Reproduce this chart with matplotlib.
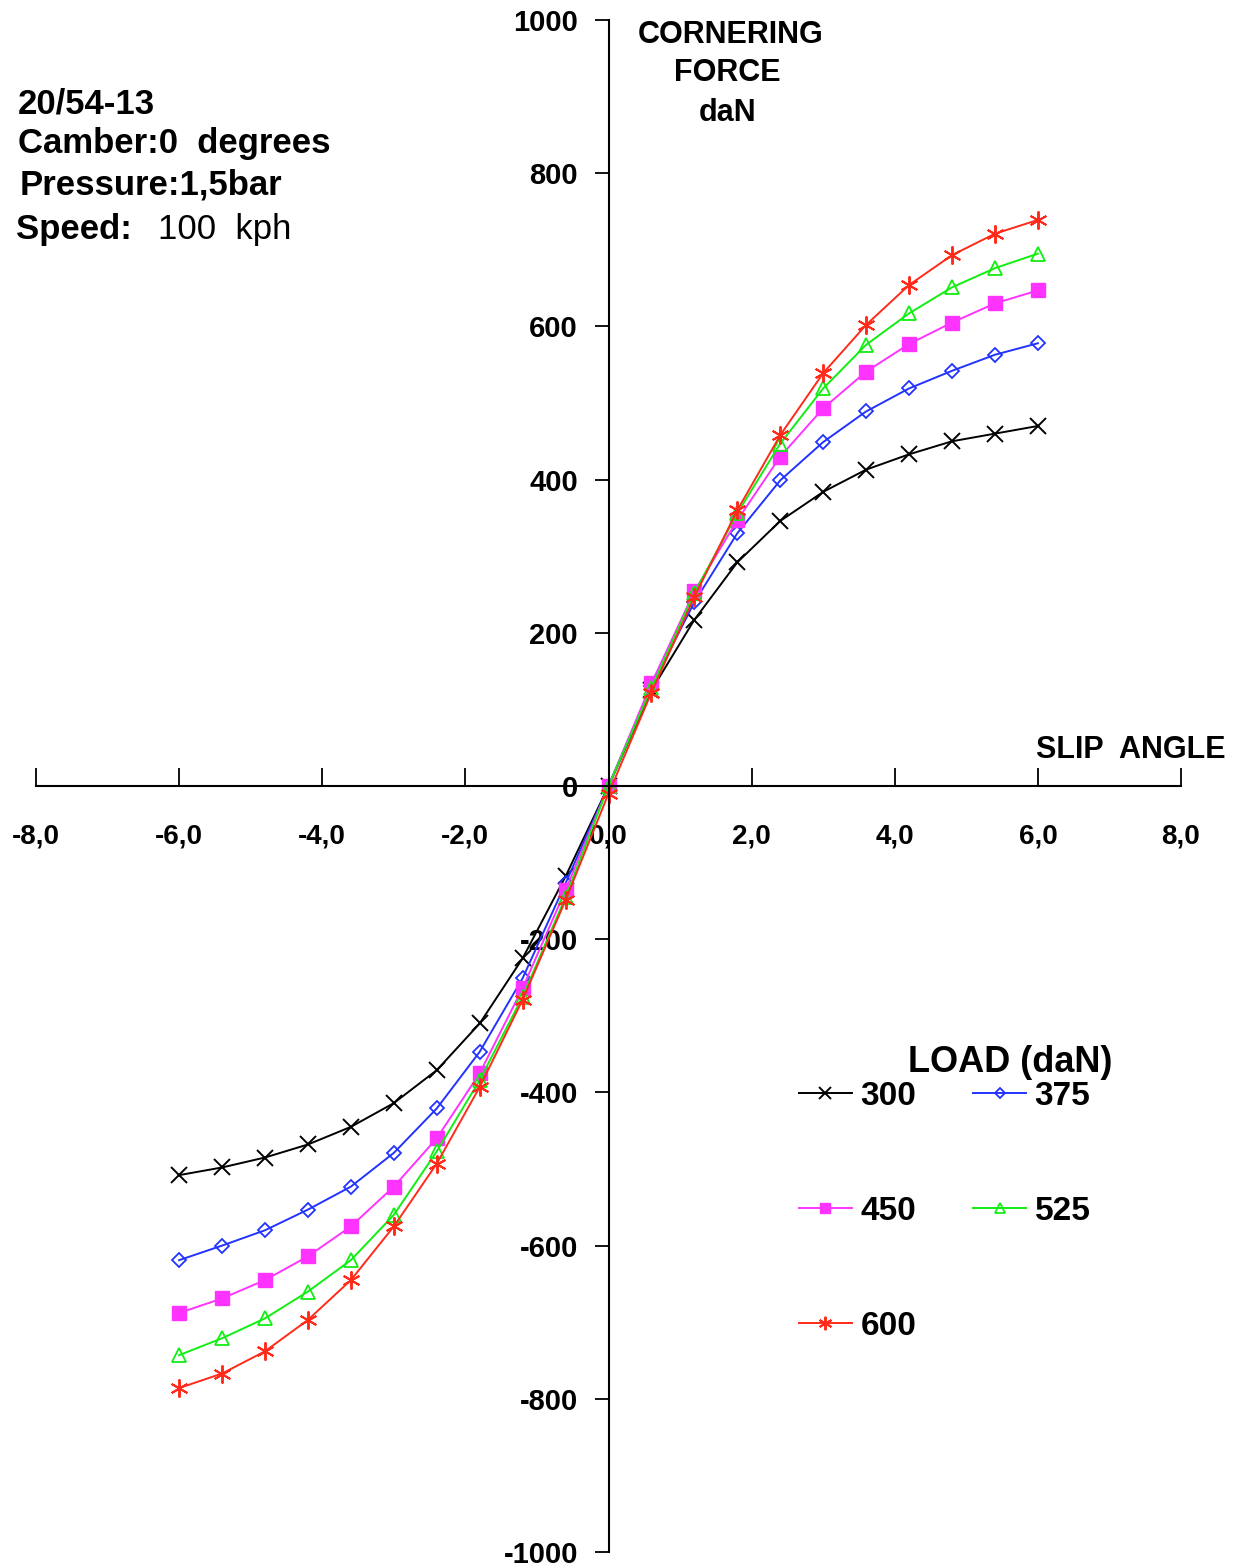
import matplotlib
matplotlib.use('Agg')
import matplotlib.pyplot as plt
import numpy as np

plt.rcParams['font.family'] = ['Liberation Sans', 'DejaVu Sans']

# slip angle [deg]
slip = [-6.0, -5.4, -4.8, -4.2, -3.6, -3.0, -2.4, -1.8, -1.2, -0.6, 0.0,
        0.6, 1.2, 1.8, 2.4, 3.0, 3.6, 4.2, 4.8, 5.4, 6.0]

# cornering force [daN] per load
f300 = [-508, -498, -485, -468, -445, -414, -371, -310, -225, -118, 0,
        125, 217, 292, 346, 384, 413, 433, 450, 460, 470]
f375 = [-619, -600, -580, -553, -523, -479, -421, -347, -251, -127, 0,
        130, 240, 330, 399, 449, 489, 519, 542, 563, 578]
f450 = [-688, -669, -645, -614, -575, -523, -460, -375, -264, -136, 0,
        134, 254, 347, 430, 493, 541, 577, 605, 630, 647]
f525 = [-743, -721, -695, -660, -619, -560, -477, -384, -275, -145, 0,
        128, 252, 356, 447, 519, 576, 617, 651, 676, 695]
f600 = [-786, -767, -738, -697, -645, -575, -493, -393, -279, -149, -10,
        122, 247, 360, 458, 539, 602, 654, 693, 721, 739]

loads = ['300', '375', '450', '525', '600']

W, H = 1247, 1568
fig = plt.figure(figsize=(W / 100, H / 100), dpi=100)
ax = fig.add_axes([36 / W, 16 / H, 1145 / W, 1532 / H])
ax.set_xlim(-8, 8)
ax.set_ylim(-1000, 1000)

# series
ax.plot(slip, f300, color='black', lw=1.4, marker='x', ms=12, mew=1.4, label=loads[0])
ax.plot(slip, f375, color='#2233ff', lw=1.4, marker='D', ms=7, mfc='none', mew=1.3, label=loads[1])
ax.plot(slip, f450, color='#ff33ff', lw=1.4, marker='s', ms=10, label=loads[2])
ax.plot(slip, f525, color='#11ee11', lw=1.4, marker='^', ms=10, mfc='none', mew=1.3, label=loads[3])
ax.plot(slip, f600, color='#ff2a1a', lw=1.4, marker=(6, 2, 0), ms=13, mew=1.4, label=loads[4])

# axes crossing at origin
for s in ['top', 'right']:
    ax.spines[s].set_visible(False)
ax.spines['left'].set_position(('data', 0))
ax.spines['bottom'].set_position(('data', 0))
ax.spines['left'].set_linewidth(1.5)
ax.spines['bottom'].set_linewidth(1.5)

xt = np.arange(-8, 9, 2)
ax.set_xticks(xt)
ax.set_xticklabels([f'{v:.1f}'.replace('.', ',') for v in xt],
                   fontsize=20, fontweight='bold')
yt = np.arange(-1000, 1001, 200)
ax.set_yticks(yt)
ax.set_yticklabels([str(v) for v in yt], fontsize=21, fontweight='bold')
ax.tick_params(axis='x', direction='in', length=13, width=1.3, pad=27)
ax.tick_params(axis='y', direction='out', length=10, width=1.3, pad=12)

# axis titles
ax.text(1.70, 980, 'CORNERING', ha='center', va='center', fontsize=22, fontweight='bold')
ax.text(1.66, 931, 'FORCE', ha='center', va='center', fontsize=22, fontweight='bold')
ax.text(1.66, 879, 'daN', ha='center', va='center', fontsize=22, fontweight='bold')
ax.text(7.30, 47, 'SLIP  ANGLE', ha='center', va='center', fontsize=22,
        fontweight='bold', clip_on=False)

# info block
def ftext(px, py, s, **kw):
    fig.text(px / W, 1 - py / H, s, va='center', ha='left', fontsize=25, **kw)

ftext(18, 104, '20/54-13', fontweight='bold')
ftext(18, 143, 'Camber:0  degrees', fontweight='bold')
ftext(20, 185, 'Pressure:1,5bar', fontweight='bold')
ftext(16, 230, 'Speed:', fontweight='bold')
ftext(158, 230, '100  kph')

# legend
h, l = ax.get_legend_handles_labels()
order = [0, 2, 4, 1, 3]
ax.legend([h[i] for i in order], [l[i] for i in order], ncol=2,
          loc='upper left', bbox_to_anchor=(782 / W, 1 - 1064 / H),
          bbox_transform=fig.transFigure, frameon=False,
          prop={'size': 24, 'weight': 'bold'}, handlelength=1.6,
          handletextpad=0.25, columnspacing=1.7, labelspacing=2.52,
          borderpad=0, markerscale=0.75)
fig.text(1010 / W, 1 - 1063 / H, 'LOAD (daN)', ha='center', va='center',
         fontsize=26, fontweight='bold')

fig.savefig('out.png', dpi=100)
